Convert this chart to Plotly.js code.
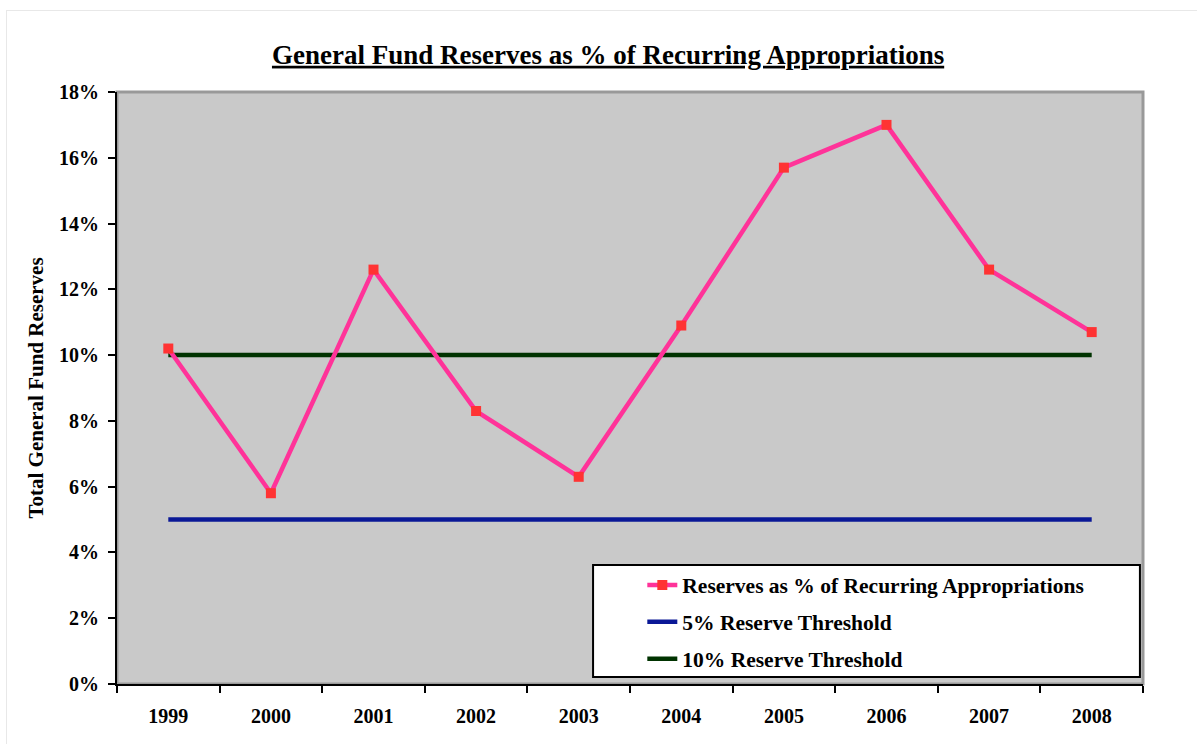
<!DOCTYPE html>
<html>
<head>
<meta charset="utf-8">
<script src="https://cdn.plot.ly/plotly-3.0.1.min.js"></script>
<style>
html,body{margin:0;padding:0;background:#fff;overflow:hidden;}
#frame{position:absolute;left:6px;top:10px;width:1200px;height:740px;border:1px solid #e8e8e8;box-sizing:border-box;pointer-events:none;}
#chart{width:1197px;height:744px;}
</style>
</head>
<body>
<div id="chart"></div>
<div id="frame"></div>
<script>
const years = ['1999','2000','2001','2002','2003','2004','2005','2006','2007','2008'];
const reservesPct = [10.2, 5.8, 12.6, 8.3, 6.3, 10.9, 15.7, 17.0, 12.6, 10.7];
const threshold5 = [5, 5, 5, 5, 5, 5, 5, 5, 5, 5];
const threshold10 = [10, 10, 10, 10, 10, 10, 10, 10, 10, 10];
const seriesNames = ['Reserves as % of Recurring Appropriations', '5% Reserve Threshold', '10% Reserve Threshold'];

const font = 'Liberation Serif, Times New Roman, serif';

const traces = [
  {x: years, y: threshold5, name: seriesNames[1], mode: 'lines', legendgroup: 'b', legendrank: 2,
   line: {color: '#0a1896', width: 4.5}, hoverinfo: 'skip'},
  {x: years, y: threshold10, name: seriesNames[2], mode: 'lines', legendgroup: 'c', legendrank: 3,
   line: {color: '#003300', width: 4.5}, hoverinfo: 'skip'},
  {x: years, y: reservesPct, name: seriesNames[0], mode: 'lines+markers', legendgroup: 'a', legendrank: 1,
   line: {color: '#ff3399', width: 4.5},
   marker: {symbol: 'square', size: 10, color: '#ff3333'}}
];

const layout = {
  width: 1197, height: 744,
  margin: {l: 117, r: 54, t: 92, b: 60},
  paper_bgcolor: 'rgba(0,0,0,0)',
  plot_bgcolor: '#c9c9c9',
  font: {family: font, color: '#000', weight: 'bold'},
  showlegend: true,
  title: {text: '<b><u>General Fund Reserves as % of Recurring Appropriations</u></b>',
          font: {family: font, size: 27, color: '#000', weight: 'bold'}, x: 0.508, xanchor: 'center', y: 0.927, yanchor: 'middle'},
  xaxis: {
    type: 'category', range: [-0.5, 9.5], tickson: 'boundaries',
    ticks: 'outside', ticklen: 7, tickwidth: 2, tickcolor: '#000',
    showline: true, linecolor: '#000', linewidth: 2, showgrid: false, zeroline: false,
    tickfont: {family: font, size: 20, color: '#000', weight: 'bold'}, ticklabelstandoff: 13
  },
  yaxis: {
    range: [0, 18], dtick: 2, ticksuffix: '%',
    ticks: 'outside', ticklen: 7, tickwidth: 2, tickcolor: '#000',
    showline: true, linecolor: '#000', linewidth: 2, showgrid: false, zeroline: false,
    tickfont: {family: font, size: 20, color: '#000', weight: 'bold'}, ticklabelstandoff: 5,
    title: {text: '<b>Total General Fund Reserves</b>', font: {family: font, size: 21, color: '#000', weight: 'bold'}, standoff: 10}
  },
  legend: {
    x: 0.512, xanchor: 'left', y: 0.202, yanchor: 'top',
    bgcolor: 'rgba(0,0,0,0)', borderwidth: 0,
    traceorder: 'grouped', tracegroupgap: 6,
    font: {family: font, size: 21.5, color: '#000', weight: 'bold'}
  },
  shapes: [
    {type: 'rect', xref: 'paper', yref: 'paper', x0: 0, x1: 1, y0: 0, y1: 1,
     line: {color: '#999', width: 3}, layer: 'below'},
    {type: 'rect', xref: 'paper', yref: 'paper', x0: 0.464, x1: 0.997, y0: 0.0118, y1: 0.201,
     line: {color: '#000', width: 2}, fillcolor: '#fff', layer: 'above'}
  ]
};

Plotly.newPlot('chart', traces, layout, {displayModeBar: false, staticPlot: true});
</script>
</body>
</html>
